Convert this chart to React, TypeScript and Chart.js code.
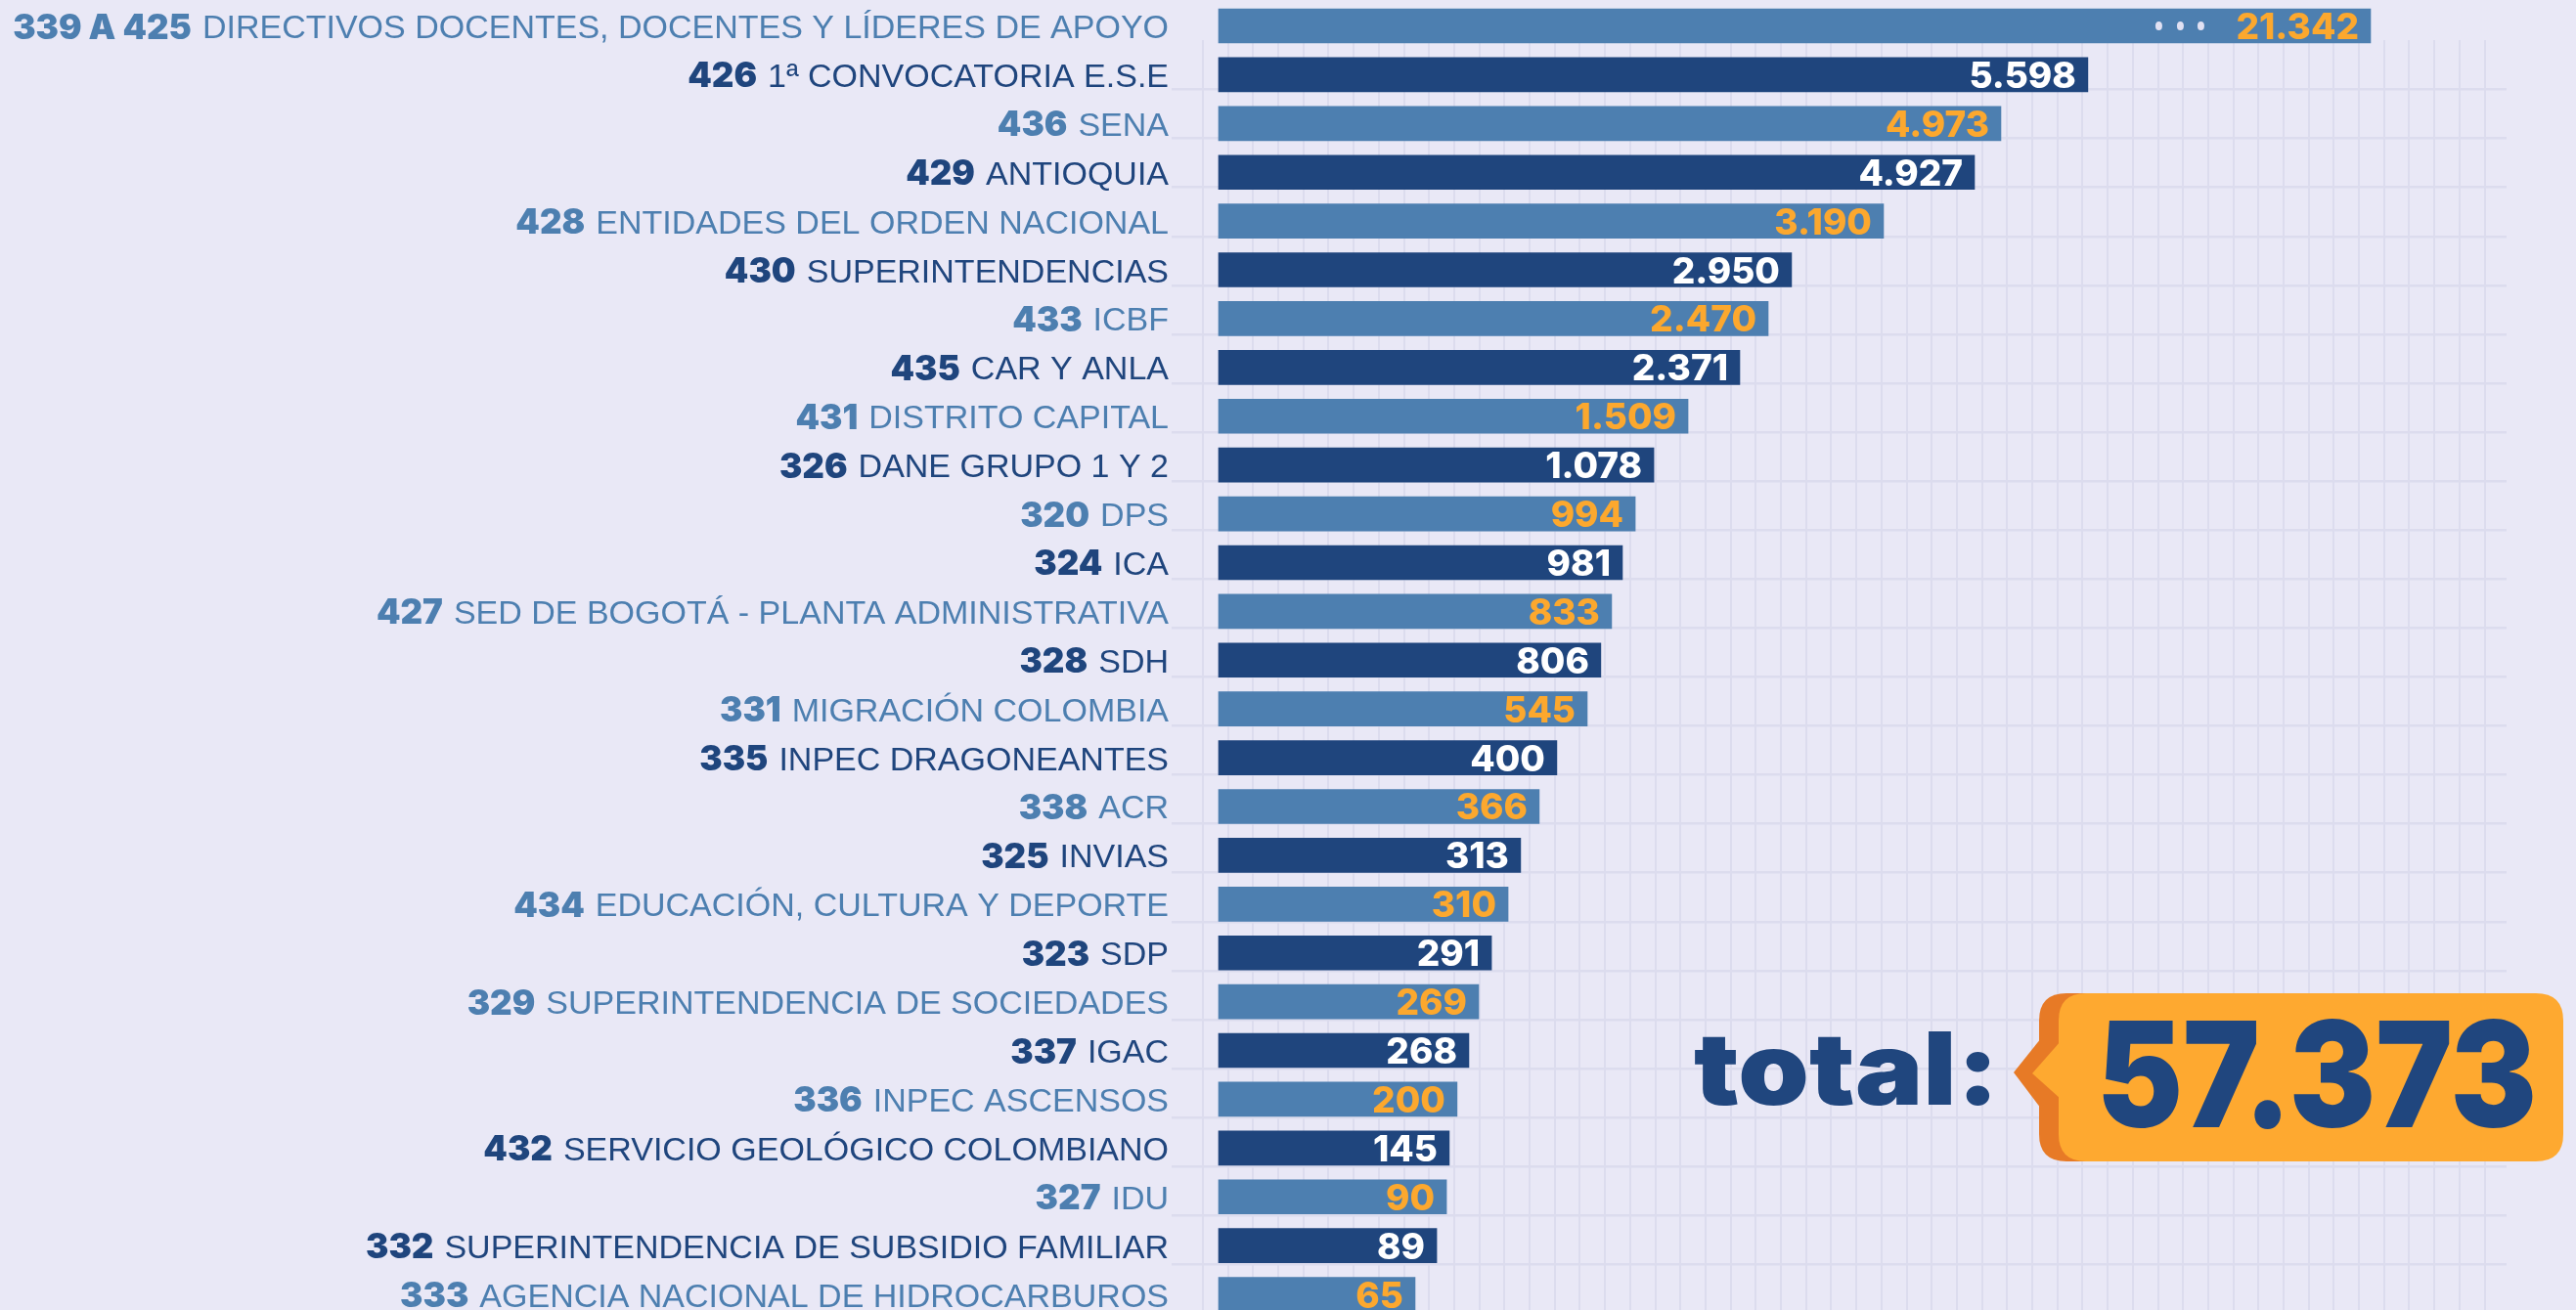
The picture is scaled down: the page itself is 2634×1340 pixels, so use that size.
import { useEffect, useRef } from "react";
import { Chart, registerables } from "chart.js";

Chart.register(...registerables);

// ---- data ----
const codes = [
  "339 A 425", "426", "436", "429", "428", "430", "433", "435", "431", "326",
  "320", "324", "427", "328", "331", "335", "338", "325", "434", "323",
  "329", "337", "336", "432", "327", "332", "333",
];
const names = [
  "DIRECTIVOS DOCENTES, DOCENTES Y LÍDERES DE APOYO",
  "1ª CONVOCATORIA E.S.E",
  "SENA",
  "ANTIOQUIA",
  "ENTIDADES DEL ORDEN NACIONAL",
  "SUPERINTENDENCIAS",
  "ICBF",
  "CAR Y ANLA",
  "DISTRITO CAPITAL",
  "DANE GRUPO 1 Y 2",
  "DPS",
  "ICA",
  "SED DE BOGOTÁ - PLANTA ADMINISTRATIVA",
  "SDH",
  "MIGRACIÓN COLOMBIA",
  "INPEC DRAGONEANTES",
  "ACR",
  "INVIAS",
  "EDUCACIÓN, CULTURA Y DEPORTE",
  "SDP",
  "SUPERINTENDENCIA DE SOCIEDADES",
  "IGAC",
  "INPEC ASCENSOS",
  "SERVICIO GEOLÓGICO COLOMBIANO",
  "IDU",
  "SUPERINTENDENCIA DE SUBSIDIO FAMILIAR",
  "AGENCIA NACIONAL DE HIDROCARBUROS",
];
const vacancies = [
  21342, 5598, 4973, 4927, 3190, 2950, 2470, 2371, 1509, 1078,
  994, 981, 833, 806, 545, 400, 366, 313, 310, 291,
  269, 268, 200, 145, 90, 89, 65,
];
// The reference does not draw bars to scale: these are the drawn bar lengths,
// read off the picture in cells of the background grid.
const barLengthsInCells = [
  45.84, 34.59, 31.13, 30.08, 26.46, 22.8, 21.87, 20.74, 18.68, 17.32,
  16.58, 16.07, 15.64, 15.21, 14.67, 13.46, 12.76, 12.02, 11.52, 10.86,
  10.35, 9.96, 9.49, 9.18, 9.07, 8.68, 7.82,
];
const truncatedRows = [0];
const totalLabel = "total:";
const totalValue = 57373;

// ---- styles ----
const BG = "#e9e8f6";
const GRID = "#dcdcee";
const LIGHT = "#4d7fb0";
const DARK = "#1f457d";
const ORANGE = "#fca82e";
const ORANGE_DARK = "#e77a26";
const NAVY = "#20467e";

const fmt = (n: number) => n.toString().replace(/\B(?=(\d{3})+(?!\d))/g, ".");

function roundRectPath(ctx: CanvasRenderingContext2D, x: number, y: number, w: number, h: number, r: number) {
  ctx.beginPath();
  ctx.moveTo(x + r, y);
  ctx.lineTo(x + w - r, y);
  ctx.quadraticCurveTo(x + w, y, x + w, y + r);
  ctx.lineTo(x + w, y + h - r);
  ctx.quadraticCurveTo(x + w, y + h, x + w - r, y + h);
  ctx.lineTo(x + r, y + h);
  ctx.quadraticCurveTo(x, y + h, x, y + h - r);
  ctx.lineTo(x, y + r);
  ctx.quadraticCurveTo(x, y, x + r, y);
  ctx.closePath();
}

function fillStretched(ctx: CanvasRenderingContext2D, text: string, x: number, y: number, width: number) {
  const w = ctx.measureText(text).width;
  ctx.save();
  ctx.translate(x, y);
  ctx.scale(width / w, 1);
  ctx.textAlign = "left";
  ctx.fillText(text, 0, 0);
  ctx.restore();
}

const gridTopMask = {
  id: "gridTopMask",
  beforeDatasetsDraw(chart: any) {
    const { ctx, chartArea } = chart;
    ctx.save();
    ctx.fillStyle = BG;
    ctx.fillRect(chartArea.left, 0, chartArea.right - chartArea.left, 41);
    ctx.restore();
  },
};

const labelsPlugin = {
  id: "labelsPlugin",
  afterDatasetsDraw(chart: any) {
    const { ctx, chartArea } = chart;
    const yScale = chart.scales.y;
    ctx.save();
    // category labels
    codes.forEach((code, i) => {
      const y = yScale.getPixelForValue(i);
      const color = i % 2 === 0 ? LIGHT : DARK;
      ctx.fillStyle = color;
      ctx.textAlign = "right";
      ctx.textBaseline = "alphabetic";
      ctx.font = '34px "Liberation Sans", Arial, sans-serif';
      const xr = chartArea.left - 3;
      ctx.fillText(names[i], xr, y + 12.5);
      const w = ctx.measureText(names[i]).width;
      ctx.font = '900 35px Inter, "Open Sans", sans-serif';
      ctx.fillText(code, xr - w - 11, y + 13);
    });
    // value labels
    const meta = chart.getDatasetMeta(0);
    meta.data.forEach((bar: any, i: number) => {
      const { x, y } = bar.getProps(["x", "y"], true);
      ctx.font = '800 37px Inter, "Open Sans", sans-serif';
      ctx.fillStyle = i % 2 === 0 ? ORANGE : "#ffffff";
      ctx.textAlign = "right";
      ctx.textBaseline = "alphabetic";
      const txt = fmt(vacancies[i]);
      ctx.fillText(txt, x - 12, y + 13.5);
      if (truncatedRows.includes(i)) {
        const left = x - 12 - ctx.measureText(txt).width;
        ctx.fillStyle = "#e1e1f3";
        [36, 57, 79].forEach((d) => {
          ctx.beginPath();
          ctx.ellipse(left - d, y, 3.5, 4.5, 0, 0, Math.PI * 2);
          ctx.fill();
        });
      }
    });
    ctx.restore();
  },
};

const totalPlugin = {
  id: "totalPlugin",
  afterDraw(chart: any) {
    const { ctx } = chart;
    ctx.save();
    // darker back shape with pointer
    ctx.fillStyle = ORANGE_DARK;
    roundRectPath(ctx, 2085, 1016, 510, 172, 28);
    ctx.fill();
    ctx.beginPath();
    ctx.moveTo(2087, 1062);
    ctx.lineTo(2059, 1097);
    ctx.lineTo(2087, 1134);
    ctx.closePath();
    ctx.fill();
    // lighter front shape
    ctx.fillStyle = "#fea930";
    roundRectPath(ctx, 2105, 1016, 516, 172, 28);
    ctx.fill();
    ctx.beginPath();
    ctx.moveTo(2107, 1065);
    ctx.lineTo(2078, 1098);
    ctx.lineTo(2107, 1124);
    ctx.closePath();
    ctx.fill();
    // texts
    ctx.fillStyle = NAVY;
    ctx.textBaseline = "alphabetic";
    ctx.font = '900 103px Inter, "Open Sans", sans-serif';
    fillStretched(ctx, totalLabel, 1732, 1130, 312);
    ctx.font = '900 150px Inter, "Open Sans", sans-serif';
    fillStretched(ctx, fmt(totalValue), 2144, 1153, 450);
    ctx.restore();
  },
};

const CELL_ORIGIN = -0.6226; // first vertical grid line, in cells from the bar base

export default function App() {
  const ref = useRef<HTMLCanvasElement | null>(null);

  useEffect(() => {
    if (!ref.current) return;
    const chart = new Chart(ref.current, {
      type: "bar",
      data: {
        labels: codes.map((c, i) => `${c} ${names[i]}`),
        datasets: [
          {
            data: barLengthsInCells,
            backgroundColor: barLengthsInCells.map((_, i) => (i % 2 === 0 ? LIGHT : DARK)),
            borderWidth: 0,
            barThickness: 35,
          },
        ],
      },
      options: {
        indexAxis: "y",
        responsive: false,
        animation: false,
        devicePixelRatio: 1,
        layout: { padding: { left: 1198, right: 71, top: 1.55, bottom: 1 } },
        plugins: { legend: { display: false }, tooltip: { enabled: false } },
        scales: {
          x: {
            type: "linear",
            min: -1.868,
            max: 51.25,
            display: true,
            ticks: { display: false },
            border: { display: false },
            grid: { color: GRID, lineWidth: 2, drawTicks: false },
            afterBuildTicks: (scale: any) => {
              const t = [];
              for (let k = 0; k <= 51; k++) t.push({ value: CELL_ORIGIN + k });
              scale.ticks = t;
            },
          },
          y: {
            type: "category",
            display: false,
          },
          y2: {
            type: "linear",
            position: "left",
            reverse: true,
            min: 0,
            max: 25.833,
            display: true,
            ticks: { display: false },
            border: { display: false },
            grid: { color: GRID, lineWidth: 2.5, drawTicks: false },
            afterBuildTicks: (scale: any) => {
              const t = [];
              for (let k = 0; k <= 24; k++) t.push({ value: 1.759 + k });
              scale.ticks = t;
            },
          },
        },
      },
      plugins: [gridTopMask, labelsPlugin, totalPlugin],
    } as any);
    return () => chart.destroy();
  }, []);

  return (
    <div
      style={{
        position: "fixed",
        left: 0,
        top: 0,
        width: 2634,
        height: 1340,
        overflow: "hidden",
        background: BG,
      }}
    >
      <canvas ref={ref} width={2634} height={1350} style={{ display: "block", width: 2634, height: 1350 }} />
    </div>
  );
}
